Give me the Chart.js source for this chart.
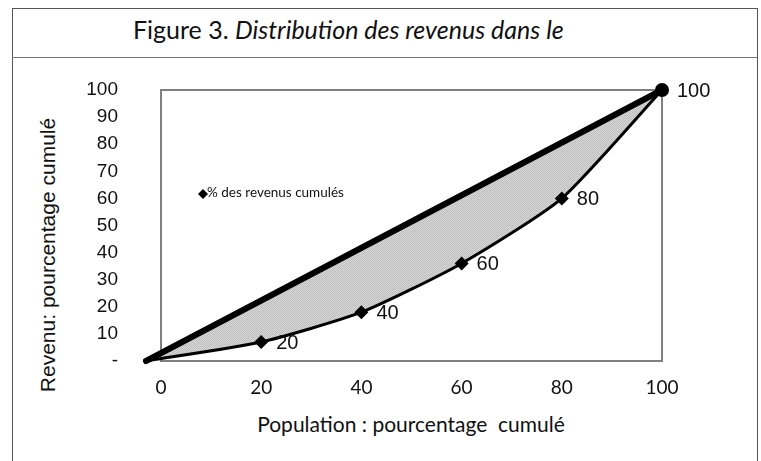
<!DOCTYPE html>
<html>
<head>
<meta charset="utf-8">
<script src="https://cdn.jsdelivr.net/npm/chart.js@4"></script>
<style>
  body { margin: 0; background: #fff; }
  #wrap { position: relative; width: 761px; height: 461px; overflow: hidden; }
  #frame { position: absolute; left: 12px; top: 8px; width: 744px; height: 470px;
           border: 1px solid #555; border-bottom: none; }
  #sep { position: absolute; left: 12px; top: 57px; width: 745px; height: 0; border-top: 1px solid #777; }
  #title { position: absolute; left: 133px; top: 14px; font: 25px Lato, "Open Sans", sans-serif; color: #111; white-space: nowrap; }
  #ytitle { position: absolute; left: 48px; top: 255px; transform: translate(-50%, -50%) rotate(-90deg);
            font: 21px "Liberation Sans", Arial, sans-serif; color: #111; white-space: nowrap; }
  #xtitle { position: absolute; left: 411px; top: 411px; transform: translateX(-50%);
            font: 21px Lato, "Open Sans", sans-serif; color: #111; white-space: pre; }
  canvas { position: absolute; left: 0; top: 0; }
</style>
</head>
<body>
<div id="wrap">
  <div id="frame"></div>
  <div id="sep"></div>
  <div id="title">Figure 3. <i>Distribution des revenus dans le</i></div>
  <div id="ytitle">Revenu: pourcentage cumulé</div>
  <div id="xtitle">Population : pourcentage  cumulé</div>
  <canvas id="chart" width="761" height="461"></canvas>
</div>
<script>
// population share (x) and cumulative income share (y)
const population = [-3, 20, 40, 60, 80, 100];
const revenus = [0, 7, 18, 36, 60, 100];
const equality = [0, 100]; // line of perfect equality
const equalityX = [-3, 100];
const xTicks = [0, 20, 40, 60, 80, 100];
const yTicks = [0, 10, 20, 30, 40, 50, 60, 70, 80, 90, 100];
const legendLabel = '% des revenus cumulés';

// fine dotted grey fill like the scan
function makePattern() {
  const c = document.createElement('canvas');
  c.width = 2; c.height = 2;
  const g = c.getContext('2d');
  g.fillStyle = '#d8d8d8';
  g.fillRect(0, 0, 2, 2);
  g.fillStyle = '#bdbdbd';
  g.fillRect(0, 0, 1, 1);
  g.fillRect(1, 1, 1, 1);
  return g.createPattern(c, 'repeat');
}

const plotBox = {
  id: 'plotBox',
  beforeDatasetsDraw(chart) {
    const { ctx, scales: { x, y } } = chart;
    const l = x.getPixelForValue(0), r = x.getPixelForValue(100);
    const t = y.getPixelForValue(100), b = y.getPixelForValue(0);
    ctx.save();
    ctx.strokeStyle = '#808080';
    ctx.lineWidth = 2;
    ctx.strokeRect(l, t, r - l, b - t);
    ctx.restore();
  }
};

const pointLabels = {
  id: 'pointLabels',
  afterDatasetsDraw(chart) {
    const { ctx } = chart;
    const meta = chart.getDatasetMeta(1);
    ctx.save();
    ctx.font = '20px "Liberation Sans", Arial, sans-serif';
    ctx.fillStyle = '#111';
    ctx.textBaseline = 'middle';
    meta.data.forEach((pt, i) => {
      if (i === 0) return;
      ctx.fillText(String(population[i]), pt.x + 15, pt.y + 1);
    });
    ctx.restore();
  }
};

const insideLegend = {
  id: 'insideLegend',
  afterDatasetsDraw(chart) {
    const { ctx } = chart;
    const px = 203, py = 194;
    ctx.save();
    ctx.fillStyle = '#000';
    ctx.beginPath();
    ctx.moveTo(px, py - 5);
    ctx.lineTo(px + 5, py);
    ctx.lineTo(px, py + 5);
    ctx.lineTo(px - 5, py);
    ctx.closePath();
    ctx.fill();
    ctx.font = '13.5px Lato, "Open Sans", sans-serif';
    ctx.fillStyle = '#111';
    ctx.textBaseline = 'middle';
    ctx.fillText(chart.data.datasets[1].label, px + 4, py - 1);
    ctx.restore();
  }
};

new Chart(document.getElementById('chart'), {
  type: 'line',
  data: {
    datasets: [
      {
        label: 'Égalité',
        data: equalityX.map((v, i) => ({ x: v, y: equality[i] })),
        borderColor: '#000',
        borderWidth: 6,
        borderCapStyle: 'round',
        pointRadius: 0,
        clip: false,
        fill: false
      },
      {
        label: legendLabel,
        data: population.map((v, i) => ({ x: v, y: revenus[i] })),
        borderColor: '#000',
        borderWidth: 3,
        tension: 0.2,
        pointStyle: ['circle', 'rectRot', 'rectRot', 'rectRot', 'rectRot', 'circle'],
        pointRadius: [0, 7, 7, 7, 7, 7],
        pointBackgroundColor: '#000',
        pointBorderColor: '#000',
        pointBorderWidth: 0,
        clip: false,
        fill: { target: 0 },
        backgroundColor: makePattern()
      }
    ]
  },
  options: {
    responsive: false,
    animation: false,
    layout: { padding: { left: 0, right: 99, top: 90, bottom: 0 } },
    plugins: { legend: { display: false }, tooltip: { enabled: false } },
    scales: {
      x: {
        type: 'linear', min: 0, max: 100,
        afterBuildTicks: s => { s.ticks = xTicks.map(v => ({ value: v })); },
        afterFit: s => { s.height = 100; },
        grid: { display: false, drawTicks: false },
        border: { display: false },
        ticks: { padding: 15, color: '#111', font: { family: 'Lato', size: 19 } }
      },
      y: {
        min: 0, max: 100,
        afterBuildTicks: s => { s.ticks = yTicks.map(v => ({ value: v })); },
        afterFit: s => { s.width = 161; },
        grid: { display: false, drawTicks: false },
        border: { display: false },
        ticks: {
          padding: 43, color: '#111',
          font: { family: '"Liberation Sans", Arial', size: 19 },
          callback: v => (v === 0 ? '-' : v)
        }
      }
    }
  },
  plugins: [plotBox, pointLabels, insideLegend]
});
</script>
</body>
</html>
